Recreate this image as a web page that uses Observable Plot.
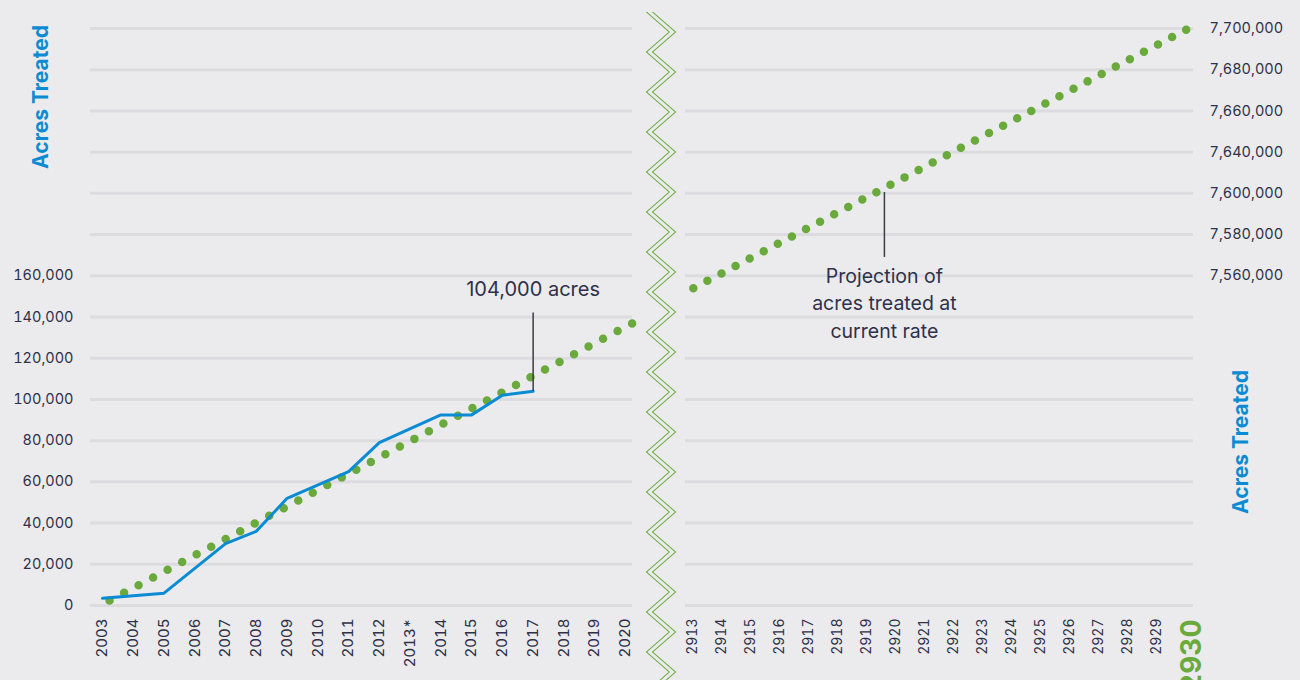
<!DOCTYPE html>
<html><head><meta charset="utf-8">
<script src="https://cdn.jsdelivr.net/npm/d3@7"></script>
<script src="https://cdn.jsdelivr.net/npm/@observablehq/plot@0.6"></script>
<style>
html,body{margin:0;padding:0;background:#ebebee;}
#wrap{position:relative;width:1300px;height:680px;overflow:hidden;font-family:Inter,"Open Sans",sans-serif;background:#ebebee;}
#left,#right{position:absolute;top:0;}
#left{left:0px}
#right{left:650px}
.ytitle{position:absolute;color:#0b8bd3;font-weight:700;font-size:21px;white-space:nowrap;transform:translate(-50%,-50%) rotate(-90deg);}
#zig{position:absolute;left:636px;top:12px;width:50px;height:668px;background-repeat:repeat-y;}
</style></head><body>
<div id="wrap">
  <div id="left"></div>
  <div id="right"></div>
  <div id="zig"></div>
  <div class="ytitle" style="left:40px;top:97px">Acres Treated</div>
  <div class="ytitle" style="left:1240px;top:442px">Acres Treated</div>
</div>
<script>
// ---------- data ----------
const actualYears = [2003, 2005, 2007, 2008, 2009, 2011, 2012, 2014, 2015, 2016, 2017];
const actualAcres = [3500, 6000, 30000, 36000, 52000, 65000, 79000, 92500, 92500, 102000, 104000];

const trendLeftYears = [2003.23, 2020.23];
const trendLeftAcres = [2400, 137000];
const trendRightYears = [2913.03, 2930.24];
const trendRightAcres = [7554000, 7681000];

const leftYears = [2003, 2004, 2005, 2006, 2007, 2008, 2009, 2010, 2011, 2012, 2013, 2014, 2015, 2016, 2017, 2018, 2019, 2020];
const leftYearLabels = ["2003", "2004", "2005", "2006", "2007", "2008", "2009", "2010", "2011", "2012", "2013*", "2014", "2015", "2016", "2017", "2018", "2019", "2020"];
const rightYears = [2913, 2914, 2915, 2916, 2917, 2918, 2919, 2920, 2921, 2922, 2923, 2924, 2925, 2926, 2927, 2928, 2929];
const rightYearLabels = ["2913", "2914", "2915", "2916", "2917", "2918", "2919", "2920", "2921", "2922", "2923", "2924", "2925", "2926", "2927", "2928", "2929"];
const finalYear = [2930];
const finalYearLabel = ["2930"];

const leftGrid = [0, 20000, 40000, 60000, 80000, 100000, 120000, 140000, 160000, 180000, 200000, 220000, 240000, 260000, 280000];
const leftTicks = [0, 20000, 40000, 60000, 80000, 100000, 120000, 140000, 160000];
const leftTickLabels = ["0", "20,000", "40,000", "60,000", "80,000", "100,000", "120,000", "140,000", "160,000"];

const rightGrid = [7400000, 7420000, 7440000, 7460000, 7480000, 7500000, 7520000, 7540000, 7560000, 7580000, 7600000, 7620000, 7640000, 7660000, 7680000];
const rightTicks = [7560000, 7580000, 7600000, 7620000, 7640000, 7660000, 7680000];
const rightTickLabels = ["7,560,000", "7,580,000", "7,600,000", "7,640,000", "7,660,000", "7,680,000", "7,700,000"];

const noteLeft = {year: 2017, from: 104000, to: 142000, text: "104,000 acres"};
const noteRight = {year: 2919.62, from: 7568900, to: 7600400, text: "Projection of\nacres treated at\ncurrent rate"};

// ---------- tables ----------
const actual = actualYears.map((y, i) => ({year: y, acres: actualAcres[i]}));
const trendLeft = trendLeftYears.map((y, i) => ({year: y, acres: trendLeftAcres[i]}));
const trendRight = trendRightYears.map((y, i) => ({year: y, acres: trendRightAcres[i]}));

// ---------- style ----------
const font = "Inter, 'Open Sans', sans-serif";
const ink = "#2e3148";
const gridColor = "#dcdce0";
const green = "#6aaa3c";
const blue = "#0b8bd3";
const bg = "#ebebee";

const left = Plot.plot({
  width: 650, height: 680,
  marginLeft: 90, marginRight: 18, marginTop: 28, marginBottom: 75,
  style: {background: "transparent", fontFamily: font, overflow: "visible"},
  x: {type: "linear", domain: [2002.61, 2020.23], label: null},
  y: {domain: [0, 280000], label: null},
  marks: [
    Plot.gridY(leftGrid, {stroke: gridColor, strokeOpacity: 1, strokeWidth: 3}),
    Plot.axisY(leftTicks, {tickSize: 0, tickPadding: 17, fontSize: 14.5, color: ink, label: null,
      tickFormat: d => leftTickLabels[leftTicks.indexOf(d)]}),
    Plot.axisX(leftYears, {tickSize: 0, tickRotate: -90, tickPadding: 13, fontSize: 15, color: ink, label: null,
      tickFormat: d => leftYearLabels[leftYears.indexOf(d)]}),
    Plot.line(trendLeft, {x: "year", y: "acres", stroke: green, strokeWidth: 8.5, strokeLinecap: "round", strokeDasharray: "0 16.43"}),
    Plot.line(actual, {x: "year", y: "acres", stroke: blue, strokeWidth: 3}),
    Plot.ruleX([noteLeft], {x: "year", y1: "from", y2: "to", stroke: "#3c3c44", strokeWidth: 1.5}),
    Plot.text([noteLeft], {x: "year", y: "to", text: "text", dy: -23, fontSize: 20, fill: ink})
  ]
});
document.getElementById("left").append(left);

const right = Plot.plot({
  width: 650, height: 680,
  marginLeft: 35, marginRight: 107, marginTop: 28, marginBottom: 75,
  style: {background: "transparent", fontFamily: font, overflow: "visible"},
  x: {type: "linear", domain: [2912.76, 2930.28], label: null},
  y: {domain: [7400000, 7680000], label: null},
  marks: [
    Plot.gridY(rightGrid, {stroke: gridColor, strokeOpacity: 1, strokeWidth: 3}),
    Plot.axisY(rightTicks, {anchor: "right", tickSize: 0, tickPadding: 16, fontSize: 14.5, color: ink, label: null,
      tickFormat: d => rightTickLabels[rightTicks.indexOf(d)]}),
    Plot.axisX(rightYears, {tickSize: 0, tickRotate: -90, tickPadding: 13, fontSize: 14, color: ink, label: null,
      tickFormat: d => rightYearLabels[rightYears.indexOf(d)]}),
    Plot.axisX(finalYear, {tickSize: 0, tickRotate: -90, tickPadding: 14, fontSize: 28, fontWeight: "bold", color: green, label: null, dx: 7,
      tickFormat: d => finalYearLabel[finalYear.indexOf(d)]}),
    Plot.line(trendRight, {x: "year", y: "acres", stroke: green, strokeWidth: 8.5, strokeLinecap: "round", strokeDasharray: "0 15.9"}),
    Plot.ruleX([noteRight], {x: "year", y1: "from", y2: "to", stroke: "#3c3c44", strokeWidth: 1.5}),
    Plot.text([noteRight], {x: "year", y: "from", text: "text", dy: 44, fontSize: 19.5, lineHeight: 1.42, fill: ink})
  ]
});
document.getElementById("right").append(right);

// break symbol (decoration)
const zigSvg = `<svg xmlns='http://www.w3.org/2000/svg' width='50' height='40'>` +
  `<path d='M36.5,-20L13.5,0L36.5,20L13.5,40L36.5,60' fill='none' stroke='${green}' stroke-width='5' stroke-linejoin='miter'/>` +
  `<path d='M36.5,-20L13.5,0L36.5,20L13.5,40L36.5,60' fill='none' stroke='${bg}' stroke-width='3' stroke-linejoin='miter'/></svg>`;
document.getElementById("zig").style.backgroundImage = `url("data:image/svg+xml,${encodeURIComponent(zigSvg)}")`;
</script>
</body></html>
